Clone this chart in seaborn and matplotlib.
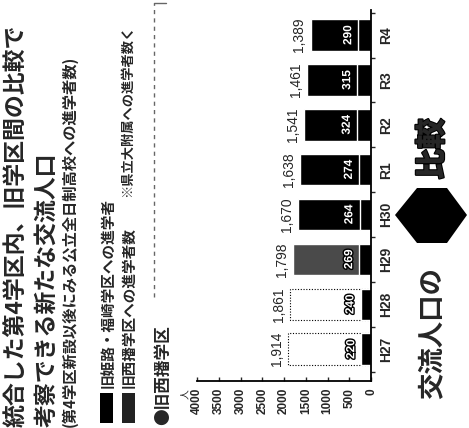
import numpy as np
import pandas as pd
import matplotlib.pyplot as plt
import matplotlib.patheffects as pe
from matplotlib.patches import Rectangle, Polygon
from matplotlib.lines import Line2D
import seaborn as sns

# Style
sns.set_style("white")
plt.rcParams['font.family'] = ['Noto Sans CJK JP', 'DejaVu Sans']

# Data
YEARS = ['H27', 'H28', 'H29', 'H30', 'R1', 'R2', 'R3', 'R4']
TOTAL = [1914, 1861, 1798, 1670, 1638, 1541, 1461, 1389]
EXCHANGE = [220, 240, 269, 264, 274, 324, 315, 290]
X_TICKS = [0, 500, 1000, 1500, 2000, 2500, 3000, 3500, 4000]

# the scan renders the gray series very differently from bar to bar
BAR_FACE = ['white', 'white', '#4a4a4a', 'black', 'black', 'black', 'black', 'black']

W, H = 469, 428
NUM_FONT = 'Liberation Sans'


def fx(px):
    return px / W


def fy(py):
    return 1 - py / H


df = pd.DataFrame({'year': YEARS, 'total': TOTAL, 'exchange': EXCHANGE})

fig = plt.figure(figsize=(W / 100, H / 100), dpi=100)
ax = fig.add_axes([fx(197), fy(381), (371 - 197) / W, (381 - 10) / H])

# total bars (旧西播学区への進学者数) and exchange part (旧姫路・福崎学区への進学者)
sns.barplot(data=df, x='total', y='year', order=YEARS, orient='h', width=0.7,
            color='black', saturation=1, ax=ax)
for p, fc in zip(ax.patches, BAR_FACE):
    p.set_facecolor(fc)
    if fc == 'white':
        p.set_edgecolor('black')
        p.set_linewidth(0.8)
        p.set_linestyle((0, (1, 1.5)))
sns.barplot(data=df, x='exchange', y='year', order=YEARS, orient='h', width=0.7,
            color='black', saturation=1, ax=ax)

ax.set_xlim(4000, 0)
ax.set_ylim(-0.71, 7.56)
ax.set_xlabel('')
ax.set_ylabel('')

for i, (t, e) in enumerate(zip(TOTAL, EXCHANGE)):
    ax.annotate(f'{t:,}', xy=(t, i), xytext=(-3, 0), textcoords='offset points',
                ha='right', va='center', rotation=90, fontsize=10, family=NUM_FONT)
    ax.annotate(str(e), xy=(e, i), xytext=(-3, 0), textcoords='offset points',
                ha='right', va='center', rotation=90, fontsize=8.5, family=NUM_FONT,
                fontweight='bold', color='white',
                path_effects=[pe.withStroke(linewidth=2, foreground='black')])

# axes styling
sns.despine(ax=ax, top=True, left=True, right=False, bottom=False)
for s in ['right', 'bottom']:
    ax.spines[s].set_color('black')
    ax.spines[s].set_linewidth(1.3)

ax.set_xticks(X_TICKS)
ax.set_xticklabels([str(v) for v in X_TICKS], rotation=90, fontsize=8.5,
                   family=NUM_FONT, fontweight='bold')
ax.tick_params(axis='x', direction='in', length=3, width=1, pad=5, bottom=True)

ax.yaxis.tick_right()
ax.set_yticks(range(len(YEARS)))
ax.set_yticklabels(YEARS, rotation=90, va='center', fontsize=10,
                   family=NUM_FONT, fontweight='bold')
ax.set_yticks(np.arange(-0.5, len(YEARS), 1), minor=True)
ax.tick_params(axis='y', which='major', length=0, pad=6)
ax.tick_params(axis='y', which='minor', length=3, width=1, direction='out',
               right=True, left=False)

fig.text(fx(185), fy(394), '人', rotation=90, fontsize=7, ha='center', va='center')

# titles
fig.text(fx(17), fy(427), '統合した第4学区内、旧学区間の比較で', rotation=90,
         fontsize=16.5, fontweight='bold', ha='center', va='bottom')
fig.text(fx(47), fy(427), '考察できる新たな交流人口', rotation=90,
         fontsize=16.5, fontweight='bold', ha='center', va='bottom')
fig.text(fx(70), fy(427), '(第4学区新設以後にみる公立全日制高校への進学者数)', rotation=90,
         fontsize=11, fontweight='bold', ha='center', va='bottom')

# legend
fig.add_artist(Rectangle((fx(100), fy(423)), 13 / W, 30 / H,
                         transform=fig.transFigure, facecolor='black', edgecolor='none'))
fig.add_artist(Rectangle((fx(122), fy(423)), 13 / W, 30 / H,
                         transform=fig.transFigure, facecolor='#222222', edgecolor='none'))
fig.text(fx(107), fy(388), '旧姫路・福崎学区への進学者', rotation=90,
         fontsize=10.5, fontweight='bold', ha='center', va='bottom')
fig.text(fx(128), fy(388), '旧西播学区への進学者数', rotation=90,
         fontsize=10.5, fontweight='bold', ha='center', va='bottom')
fig.text(fx(127), fy(197), '※県立大附属への進学者数く', rotation=90,
         fontsize=9.5, fontweight='bold', ha='center', va='bottom')

fig.text(fx(163), fy(425), '●旧西播学区', rotation=90,
         fontsize=12, fontweight='bold', ha='center', va='bottom')

# faded dashed frame from the scan
fig.add_artist(Line2D([fx(154), fx(154)], [fy(297), fy(3)], transform=fig.transFigure,
                      color='#666666', lw=1, linestyle=(0, (3, 3))))
fig.add_artist(Line2D([fx(154), fx(166)], [fy(3), fy(3)], transform=fig.transFigure,
                      color='#666666', lw=1))

# double arrow with "交流人口の比較"
hexagon = [(395, 215), (417, 188), (447, 188), (467, 215), (447, 243), (417, 243)]
fig.add_artist(Polygon([(fx(x), fy(y)) for x, y in hexagon], closed=True,
                       transform=fig.transFigure, facecolor='black', edgecolor='none'))
fig.text(fx(432), fy(149), '比較', rotation=90, fontsize=22, fontweight='black',
         ha='center', va='center',
         path_effects=[pe.withStroke(linewidth=1.5, foreground='black')])
fig.text(fx(432), fy(333), '交流人口の', rotation=90, fontsize=19, fontweight='bold',
         ha='center', va='center')

plt.savefig('out.png', dpi=100)
plt.close()
